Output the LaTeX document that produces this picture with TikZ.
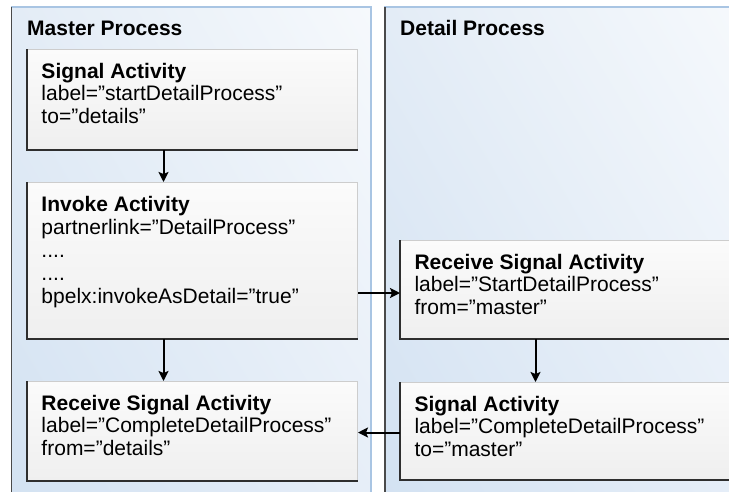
\documentclass[tikz,border=0pt]{standalone}
\usepackage{fontspec}
\setmainfont{Liberation Sans}
\usetikzlibrary{arrows.meta,shadings}
\definecolor{panelborder}{HTML}{A9C5E3}
\definecolor{paneledge}{HTML}{4A4A4A}
\definecolor{pUL}{HTML}{E3ECF6}
\definecolor{pUR}{HTML}{F6F9FC}
\definecolor{pLL}{HTML}{D3E2F2}
\definecolor{pLR}{HTML}{E6EEF8}
\definecolor{boxborder}{HTML}{CDCDCD}
\definecolor{boxedge}{HTML}{2E2E2E}
\definecolor{boxtop}{HTML}{FBFBFB}
\definecolor{boxbot}{HTML}{EFEFEF}
\newcommand{\acttext}[2]{\parbox[c][#1][t]{302pt}{\vspace*{13.5pt}#2}}
\tikzset{
  actbox/.style={shape=rectangle, anchor=north west, inner xsep=14pt, inner ysep=0pt,
    top color=boxtop, bottom color=boxbot, draw=boxborder, line width=1pt,
    minimum width=330pt, font=\fontsize{21pt}{22.5pt}\selectfont},
  title/.style={anchor=base west, inner sep=0pt, font=\fontsize{21pt}{22.5pt}\selectfont\bfseries},
  arr/.style={line width=2pt, -{Stealth[length=10pt,width=10pt,inset=2pt]}},
  darkedge/.style={draw=boxedge, line width=2pt},
}
\begin{document}
\begin{tikzpicture}[x=1pt,y=-1pt]
\useasboundingbox (0,0) rectangle (729,491);
\clip (0,0) rectangle (729,491);
\fill[white] (0,0) rectangle (729,491);
% panels
\shade[upper left=pUL, upper right=pUR, lower left=pLL, lower right=pLR] (11.5,7) rectangle (371,500);
\draw[panelborder, line width=1.5pt] (11.5,500) -- (11.5,7) -- (371,7) -- (371,500);
\draw[paneledge, line width=1.5pt] (11.5,7) -- (11.5,500);
\shade[upper left=pUL, upper right=pUR, lower left=pLL, lower right=pLR] (385,7) rectangle (745,500);
\draw[panelborder, line width=1.5pt] (385,500) -- (385,7) -- (745,7);
\draw[paneledge, line width=1.5pt] (385,7) -- (385,500);
% titles
\node[title] (tm) at (27,35.5) {Master Process};
\node[title] (td) at (400,35.5) {Detail Process};
% master boxes
\node[actbox] (s1) at (27,49) {\acttext{100pt}{\textbf{Signal Activity}\\label=”startDetailProcess”\\to=”details”}};
\node[actbox] (inv) at (27,182) {\acttext{156pt}{\textbf{Invoke Activity}\\[0.5pt]partnerlink=”DetailProcess”\\[0.5pt]....\\[0.5pt]....\\[0.5pt]bpelx:invokeAsDetail=”true”}};
\node[actbox] (mr) at (27,381) {\acttext{99pt}{\textbf{Receive Signal Activity}\\label=”CompleteDetailProcess”\\from=”details”}};
% detail boxes
\node[actbox] (rs) at (400,240) {\acttext{98pt}{\textbf{Receive Signal Activity}\\label=”StartDetailProcess”\\from=”master”}};
\node[actbox] (ds) at (400,382) {\acttext{97pt}{\textbf{Signal Activity}\\label=”CompleteDetailProcess”\\to=”master”}};
% dark edges
\foreach \b in {s1,inv,mr,rs,ds}{
  \draw[darkedge] (\b.north west) -- (\b.south west) -- (\b.south east);
}
% connectors
\draw[arr] ([xshift=-29pt]s1.south) -- ([xshift=-29pt]inv.north);
\draw[arr] ([xshift=-29pt]inv.south) -- ([xshift=-29pt]mr.north);
\draw[arr] ([xshift=-30pt]rs.south) -- ([xshift=-30pt]ds.north);
\draw[arr] ([yshift=-3.5pt]rs.west -| inv.east) -- ([yshift=-3.5pt]rs.west);
\draw[arr] ([yshift=-1.5pt]ds.west) -- ([yshift=-1.5pt]ds.west -| mr.east);
\end{tikzpicture}
\end{document}
